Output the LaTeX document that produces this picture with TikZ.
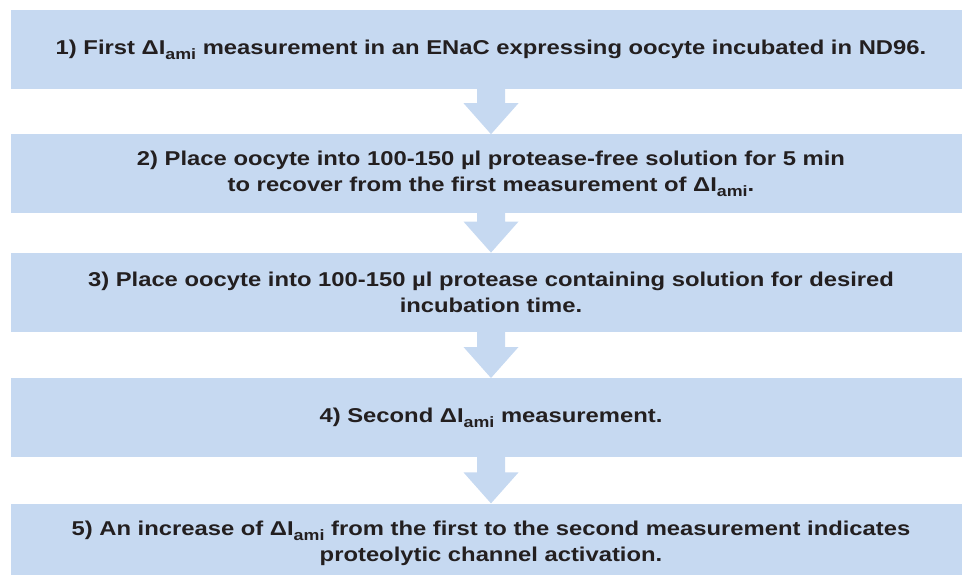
\documentclass[tikz,border=0pt]{standalone}
\usepackage{fontspec}
\setmainfont{Liberation Sans}[FakeStretch=1.19]
\usetikzlibrary{positioning,calc}
\definecolor{stepfill}{HTML}{C6D9F1}
\definecolor{stepink}{HTML}{231F20}

\newcommand{\dIami}{ΔI\raisebox{-5pt}{\fontsize{15}{15}\selectfont ami}}
% block arrow from the bottom of one box to the top of the next
\newcommand{\flowarrow}[2]{%
  \fill[stepfill] ($(#1.south)+(-14pt,1pt)$) -- ($(#2.north)+(-14pt,31pt)$)
    -- ($(#2.north)+(-27.5pt,31pt)$) -- (#2.north)
    -- ($(#2.north)+(27.5pt,31pt)$) -- ($(#2.north)+(14pt,31pt)$)
    -- ($(#1.south)+(14pt,1pt)$) -- cycle;}

\begin{document}
\begin{tikzpicture}[
  x=1pt, y=1pt,
  stepbox/.style={fill=stepfill, inner sep=0pt, minimum width=960pt,
    minimum height=79pt, align=center, text=stepink,
    font=\bfseries\fontsize{20}{26}\selectfont}
]
  \useasboundingbox (0,0) rectangle (962,-575);
  \begin{scope}
  \clip (0,0) rectangle (962,-575);
  \node[stepbox] (first) at (491,-49.5)
    {1) First \dIami{} measurement in an ENaC expressing oocyte incubated in ND96.};
  \node[stepbox, below=45pt of first] (recover)
    {2) Place oocyte into 100-150 µl protease-free solution for 5 min\\
     to recover from the first measurement of \dIami.};
  \node[stepbox, below=39pt of recover] (protease)
    {3) Place oocyte into 100-150 µl protease containing solution for desired\\
     incubation time.};
  \node[stepbox, below=46pt of protease] (second)
    {4) Second \dIami{} measurement.};
  \node[stepbox, below=46pt of second] (increase)
    {5) An increase of \dIami{} from the first to the second measurement indicates\\
     proteolytic channel activation.};

  \flowarrow{first}{recover}
  \flowarrow{recover}{protease}
  \flowarrow{protease}{second}
  \flowarrow{second}{increase}
  \end{scope}
\end{tikzpicture}
\end{document}
